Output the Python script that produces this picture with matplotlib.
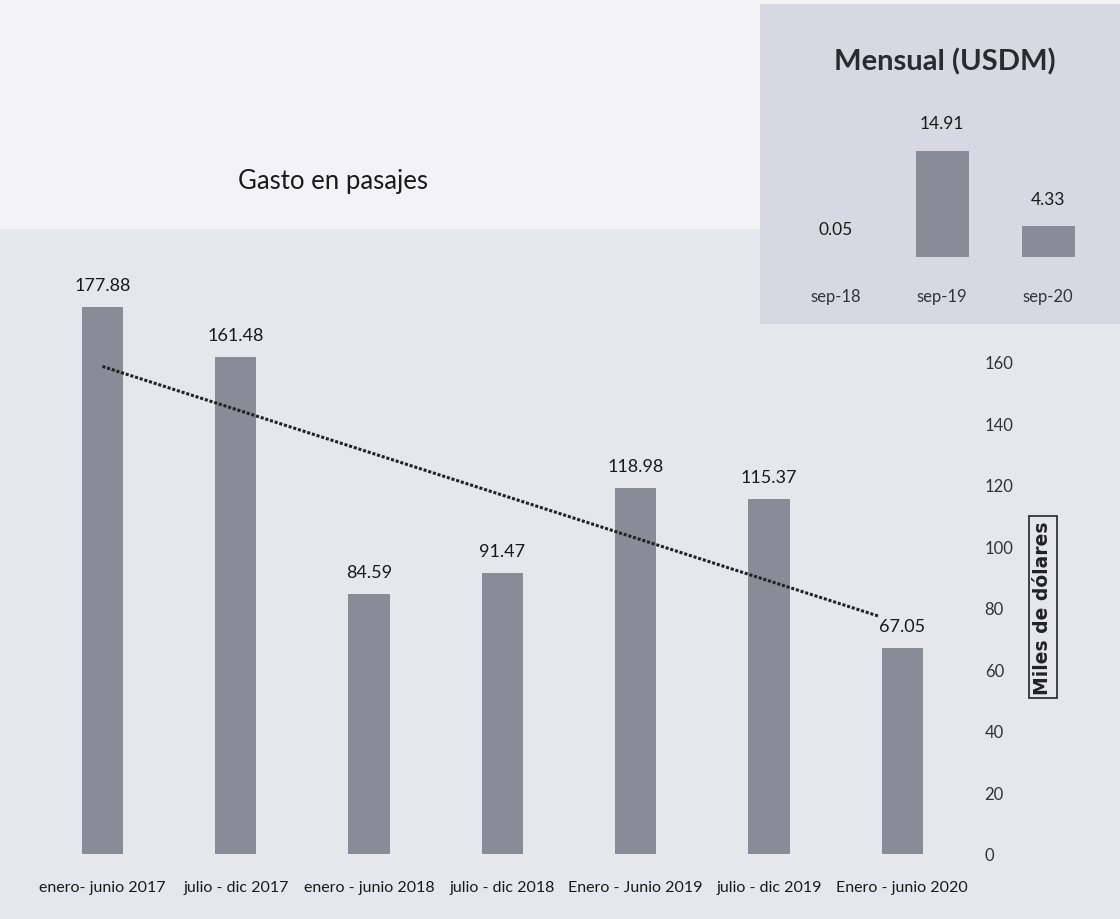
import numpy as np
import matplotlib
matplotlib.use('Agg')
from matplotlib import pyplot as plt
from matplotlib.patches import Rectangle

# Gasto en pasajes (miles de dolares) por semestre
periods = ['enero- junio 2017', 'julio - dic 2017', 'enero - junio 2018',
           'julio - dic 2018', 'Enero - Junio 2019', 'julio - dic 2019',
           'Enero - junio 2020']
spend = [177.88, 161.48, 84.59, 91.47, 118.98, 115.37, 67.05]
y_ticks = [0, 20, 40, 60, 80, 100, 120, 140, 160]

# Mensual (USDM)
months = ['sep-18', 'sep-19', 'sep-20']
monthly = [0.05, 14.91, 4.33]

bar_color = '#898b96'
text_color = '#1a1a1a'
fam = ['Liberation Sans Narrow', 'Lato', 'DejaVu Sans']

W, H = 1120, 920
fig = plt.figure(figsize=(W / 100, H / 100), dpi=100)
fig.patch.set_facecolor('#e6e6ed')
# lighter upper part of the scan
fig.patches.append(Rectangle((0, 1 - 230 / H), 1, 230 / H, transform=fig.transFigure,
                             facecolor='#f3f3f6', edgecolor='none', zorder=-2))
# inset box
fig.patches.append(Rectangle((760 / W, 1 - 325 / H), 360 / W, 320 / H,
                             transform=fig.transFigure, facecolor='#d8d8e2',
                             edgecolor='none', zorder=-1))

def px_axes(x0, y0, x1, y1):
    # pixel box (top-left origin) -> figure fraction
    return [x0 / W, 1 - y1 / H, (x1 - x0) / W, (y1 - y0) / H]

# main chart
ax = fig.add_axes(px_axes(22.5, 286, 955.5, 855))
ax.set_zorder(2)
ax.set_facecolor('none')
x = np.arange(len(spend))
ax.bar(x, spend, width=0.31, color=bar_color, zorder=2)
for xi, v in zip(x, spend):
    ax.annotate(f'{v:.2f}', (xi, v), xytext=(0, 10), textcoords='offset points',
                ha='center', va='bottom', fontsize=13, color=text_color, family=fam)

# linear trend line (dotted)
slope, inter = np.polyfit(x, spend, 1)
tx = np.array([0, 5.83])
ax.plot(tx, slope * tx + inter, linestyle=(0, (1, 0.6)), color='#222222',
        linewidth=2.2, zorder=3)

ax.set_xlim(-0.6, 6.4)
ax.set_ylim(0, 185)
ax.set_xticks(x)
ax.set_xticklabels(periods, fontsize=11.5, color=text_color, family=fam)
ax.tick_params(axis='x', length=0, pad=19)
ax.yaxis.tick_right()
ax.set_yticks(y_ticks)
ax.set_yticklabels([str(t) for t in y_ticks], fontsize=12, color='#333333', family=fam)
ax.tick_params(axis='y', length=0, pad=21)
for s in ax.spines.values():
    s.set_visible(False)

fig.text(333 / W, 1 - 182 / H, 'Gasto en pasajes', ha='center', va='center',
         fontsize=18.5, color=text_color, family=fam)
fig.text(1043 / W, 1 - 608 / H, 'Miles de dólares', rotation=90, ha='center', va='center',
         fontsize=13.5, fontweight='bold', color='#222222', family=['DejaVu Sans'],
         bbox=dict(boxstyle='square,pad=0.25', facecolor='none', edgecolor='#333333',
                   linewidth=1.3))

# inset chart
ax2 = fig.add_axes(px_axes(772.4, 100, 1111.6, 258))
ax2.set_zorder(3)
ax2.set_facecolor('none')
xm = np.arange(len(monthly))
ax2.bar(xm, monthly, width=0.5, color=bar_color)
for xi, v in zip(xm, monthly):
    ax2.annotate(f'{v:.2f}', (xi, v), xytext=(0, 14), textcoords='offset points',
                 ha='center', va='bottom', fontsize=12.5, color=text_color, family=fam)
ax2.set_xlim(-0.6, 2.6)
ax2.set_ylim(0, 22.2)
ax2.set_xticks(xm)
ax2.set_xticklabels(months, fontsize=12, color='#333340', family=fam)
ax2.tick_params(axis='x', length=0, pad=22)
ax2.set_yticks([])
for s in ax2.spines.values():
    s.set_visible(False)
fig.text(945 / W, 1 - 62 / H, 'Mensual (USDM)', ha='center', va='center',
         fontsize=21, fontweight='bold', color='#2a2a33', family=fam)

fig.savefig('out.png', dpi=100, facecolor=fig.get_facecolor())
